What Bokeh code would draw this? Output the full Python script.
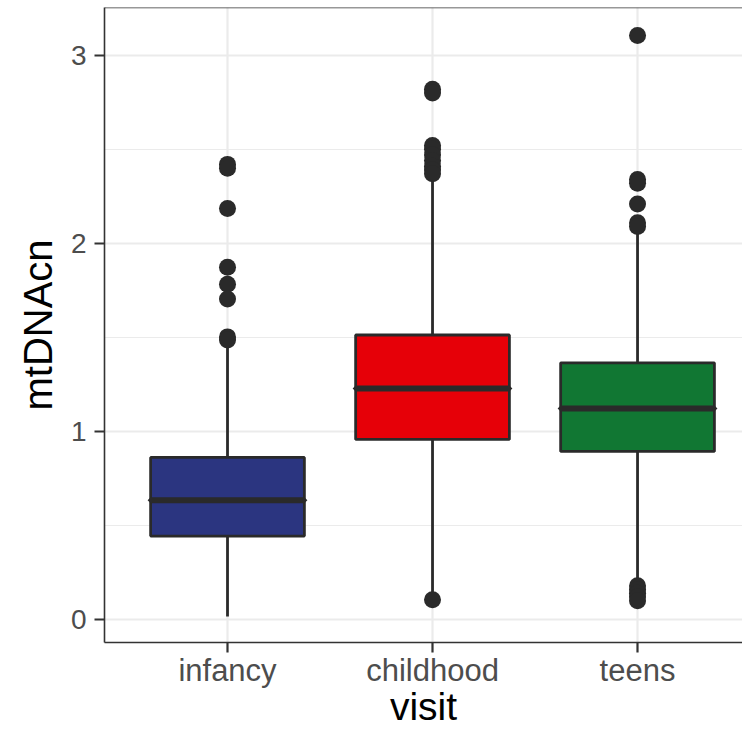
from bokeh.plotting import figure
from bokeh.models import Range1d, FixedTicker, Span, ColumnDataSource
from bokeh.embed import file_html
from bokeh.resources import INLINE

# ---- data ----
categories = ["infancy", "childhood", "teens"]
xpos = [1, 2, 3]
q1 = [0.444, 0.958, 0.894]
median = [0.635, 1.228, 1.122]
q3 = [0.862, 1.513, 1.365]
whisker_low = [0.016, 0.14, 0.20]
whisker_high = [1.46, 2.35, 2.06]
box_colors = ["#2B3580", "#E60008", "#117733"]

outliers_infancy = [2.42, 2.40, 2.185, 1.873, 1.783, 1.704, 1.503, 1.487]
outliers_childhood = [2.82, 2.80, 2.52, 2.50, 2.47, 2.44, 2.41, 2.39, 2.37, 0.106]
outliers_teens = [3.105, 2.34, 2.32, 2.21, 2.11, 2.09, 0.18, 0.16, 0.14, 0.12, 0.10]

y_ticks = [0, 1, 2, 3]
y_minor = [0.5, 1.5, 2.5]

FONT = "Liberation Sans"
EDGE = "#2A2A2A"
Y_TOP = 3.254

p = figure(width=742, height=730,
           x_range=Range1d(0.4, 3.512), y_range=Range1d(-0.1217, Y_TOP),
           output_backend="svg", toolbar_location=None,
           min_border_left=104, min_border_right=0, min_border_top=7,
           min_border_bottom=85)
p.outline_line_color = None
p.background_fill_color = "white"
p.border_fill_color = "white"

# grids
p.xgrid.ticker = FixedTicker(ticks=xpos)
p.xgrid.grid_line_color = "#EBEBEB"
p.xgrid.grid_line_width = 2.2
p.ygrid.ticker = FixedTicker(ticks=y_ticks, minor_ticks=y_minor)
p.ygrid.grid_line_color = "#EBEBEB"
p.ygrid.grid_line_width = 2.2
p.ygrid.minor_grid_line_color = "#EBEBEB"
p.ygrid.minor_grid_line_width = 1.1

src = ColumnDataSource(dict(x=xpos, cat=categories, q1=q1, q3=q3, med=median,
                            lo=whisker_low, hi=whisker_high, color=box_colors))

# whiskers
p.segment(x0="x", y0="q3", x1="x", y1="hi", source=src, line_color=EDGE, line_width=2.8)
p.segment(x0="x", y0="q1", x1="x", y1="lo", source=src, line_color=EDGE, line_width=2.8)

# outliers
ox, oy = [], []
for xv, vals in zip(xpos, [outliers_infancy, outliers_childhood, outliers_teens]):
    ox += [xv] * len(vals)
    oy += vals
p.scatter(x=ox, y=oy, size=17, marker="circle", fill_color=EDGE, line_color=EDGE, line_width=0)

# boxes
p.vbar(x="x", width=0.75, top="q3", bottom="q1", source=src,
       fill_color="color", line_color=EDGE, line_width=2.8)
# medians
p.rect(x="x", y="med", width=0.75, height=0.0001, source=src,
       fill_color=EDGE, line_color=EDGE, line_width=6)

# top border of the panel
p.add_layout(Span(location=Y_TOP, dimension="width", line_color="#333333", line_width=1.6))

# axes
for ax in (p.xaxis[0], p.yaxis[0]):
    ax.axis_line_color = "#333333"
    ax.axis_line_width = 1.6
    ax.major_tick_line_color = "#333333"
    ax.major_tick_line_width = 2.2
    ax.major_tick_out = 10
    ax.major_tick_in = 0
    ax.minor_tick_line_color = None
    ax.major_label_text_font = FONT
    ax.major_label_text_color = "#4D4D4D"
    ax.axis_label_text_font = FONT
    ax.axis_label_text_font_style = "normal"
    ax.axis_label_text_color = "black"

p.xaxis.ticker = FixedTicker(ticks=xpos)
p.xaxis.major_label_overrides = {1: "infancy", 2: "childhood", 3: "teens"}
p.xaxis.axis_label = "visit"
p.xaxis.major_label_text_font_size = "31px"
p.xaxis.axis_label_text_font_size = "39px"
p.xaxis.major_label_standoff = 0
p.xaxis.axis_label_standoff = -6

p.yaxis.ticker = FixedTicker(ticks=y_ticks)
p.yaxis.axis_label = "mtDNAcn"
p.yaxis.major_label_text_font_size = "28px"
p.yaxis.axis_label_text_font_size = "40px"
p.yaxis.major_label_standoff = 8
p.yaxis.axis_label_standoff = 8

open("out.html", "w").write(file_html(p, INLINE))
